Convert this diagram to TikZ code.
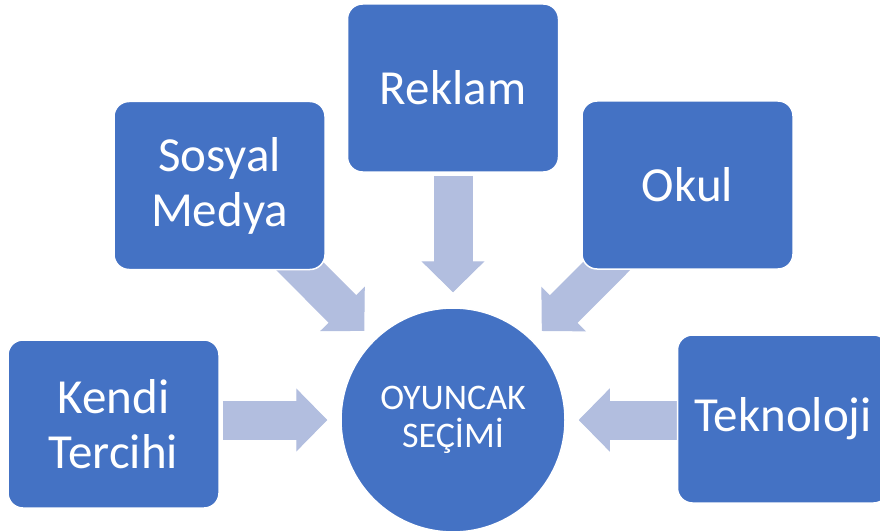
\documentclass[tikz,border=0pt]{standalone}
\usepackage{fontspec}
\setmainfont{Carlito}
\usepackage{tikz}
\usetikzlibrary{arrows.meta,backgrounds}

\definecolor{boxblue}{RGB}{68,114,196}
\definecolor{arrowblue}{RGB}{178,190,223}

\begin{document}
\begin{tikzpicture}[x=1pt,y=-1pt]
\tikzstyle{factor}=[rectangle,rounded corners=15pt,draw=white,line width=1.5pt,fill=boxblue,text=white,minimum width=211pt,minimum height=168pt,inner sep=0pt,align=center,font=\fontsize{49}{55}\selectfont]
\tikzstyle{choice}=[circle,draw=white,line width=1.5pt,fill=boxblue,text=white,minimum size=224pt,inner sep=0pt,align=center,font=\fontsize{36}{38}\selectfont]
\tikzstyle{flow}=[arrowblue,line width=39pt,-{Triangle[length=31pt,width=63pt,line width=1pt]}]
\useasboundingbox (0,0) rectangle (880,532);
\clip (0,0) rectangle (880,532);
\node[choice] (secim) at (453,420) {OYUNCAK\\SEÇİMİ};
\node[factor] (reklam) at (453,88) {Reklam};
\node[factor] (sosyal) at (219.5,185.5) {Sosyal\\Medya};
\node[factor] (okul) at (687.5,185) {Okul};
\node[factor] (kendi) at (113.5,424) {Kendi\\Tercihi};
\node[factor] (tekno) at (783,419) {Teknoloji};
\begin{pgfonlayer}{background}
\draw[flow,shorten <=3pt,shorten >=15pt] (reklam) -- (secim);
\draw[flow,shorten >=13pt] (sosyal.center) -- (secim);
\draw[flow,shorten >=13pt] (okul.center) -- (secim);
\draw[flow,shorten <=3pt,shorten >=13pt] (kendi.east |- secim) -- (secim);
\draw[flow,shorten >=13pt] (tekno.west |- secim) -- (secim);
\end{pgfonlayer}
\end{tikzpicture}
\end{document}
